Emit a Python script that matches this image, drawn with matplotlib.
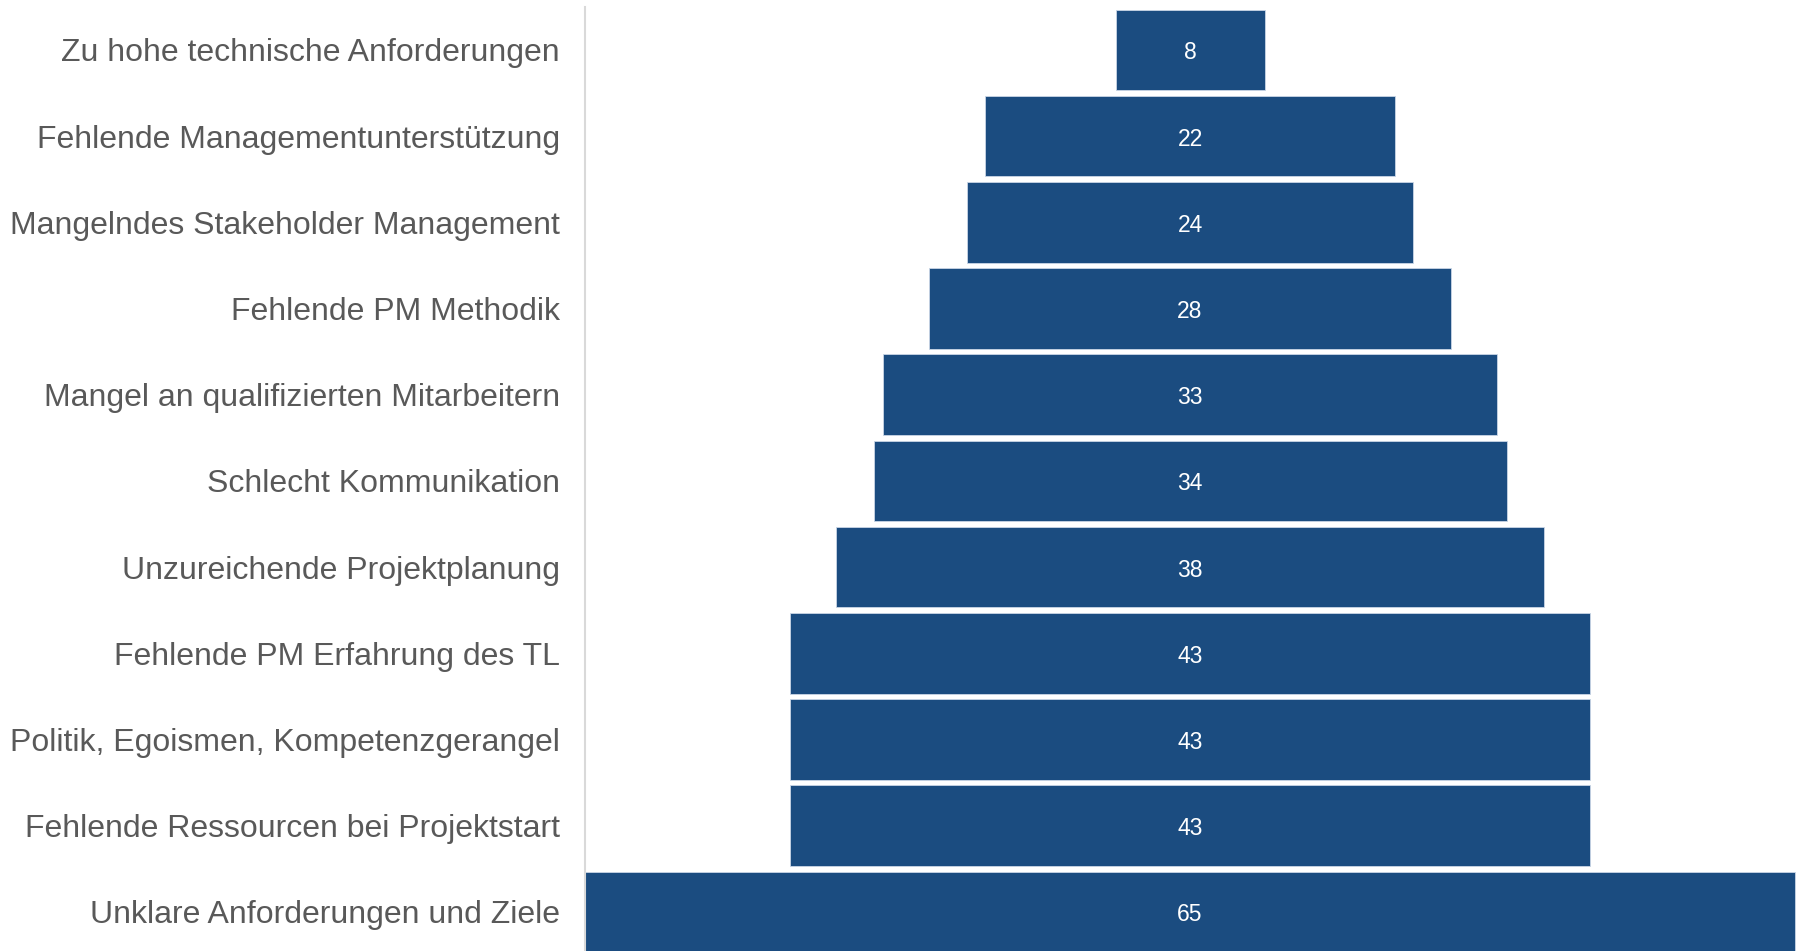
import matplotlib
matplotlib.use("Agg")
import matplotlib.pyplot as plt

categories = [
    "Zu hohe technische Anforderungen",
    "Fehlende Managementunterstützung",
    "Mangelndes Stakeholder Management",
    "Fehlende PM Methodik",
    "Mangel an qualifizierten Mitarbeitern",
    "Schlecht Kommunikation",
    "Unzureichende Projektplanung",
    "Fehlende PM Erfahrung des TL",
    "Politik, Egoismen, Kompetenzgerangel",
    "Fehlende Ressourcen bei Projektstart",
    "Unklare Anforderungen und Ziele",
]
values = [8, 22, 24, 28, 33, 34, 38, 43, 43, 43, 65]

plt.rcParams['font.family'] = ['Liberation Sans', 'DejaVu Sans']

W, H = 1802, 951
fig = plt.figure(figsize=(W / 100, H / 100), dpi=100)
ax_top = 6.9
ax_h = 948.1
ax = fig.add_axes([585 / W, (H - ax_top - ax_h) / H, (1796 - 585) / W, ax_h / H])

y = list(range(len(categories)))
lefts = [-v / 2 for v in values]
ax.barh(y, values, left=lefts, height=0.935, color="#1B4C80",
        edgecolor="#c9d6e6", linewidth=0.6)
for yi, v in zip(y, values):
    ax.annotate(str(v), (0, yi), xytext=(0, -3), textcoords="offset pixels",
                ha="center", va="center", color="white", fontsize=16.5)

ax.set_ylim(len(categories) - 0.5, -0.5)
ax.set_xlim(-max(values) / 2, max(values) / 2 + 0.05)
ax.set_yticks(y)
ax.set_yticklabels(categories, fontsize=23, color="#595959")
ax.tick_params(axis="y", length=0, pad=18)
ax.set_xticks([])
for s in ["top", "right", "bottom"]:
    ax.spines[s].set_visible(False)
ax.spines["left"].set_color("#d9d9d9")
ax.spines["left"].set_linewidth(1.5)

fig.savefig("out.png", dpi=100)
